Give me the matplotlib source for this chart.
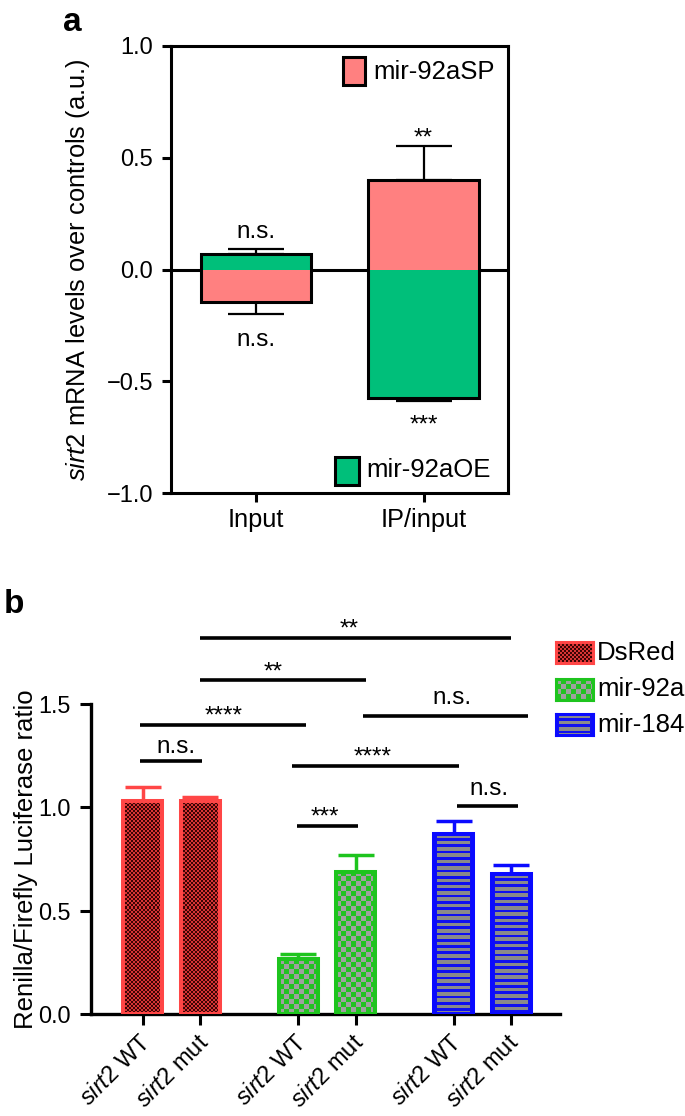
import numpy as np
import matplotlib
matplotlib.use('Agg')
import matplotlib.pyplot as plt
from matplotlib.colors import to_rgb
from matplotlib.patches import Rectangle
from matplotlib.transforms import ScaledTranslation

plt.rcParams['font.family'] = ['Liberation Sans', 'DejaVu Sans']
plt.rcParams['mathtext.fontset'] = 'custom'
plt.rcParams['mathtext.rm'] = 'Liberation Sans'
plt.rcParams['mathtext.it'] = 'Liberation Sans:italic'

# ---- panel a data ----
a_groups = ['Input', 'IP/input']
a_sp = [-0.145, 0.40]          # mir-92aSP
a_sp_err = [0.055, 0.152]
a_oe = [0.07, -0.575]          # mir-92aOE
a_oe_err = [0.022, 0.015]
a_sig_upper = ['n.s.', '**']
a_sig_upper_y = [0.171, 0.618]
a_sig_lower = ['n.s.', '***']
a_sig_lower_y = [-0.312, -0.666]

# ---- panel b data ----
b_labels = ['$\\mathit{sirt2}$ WT', '$\\mathit{sirt2}$ mut'] * 3
b_pos = [0, 1, 2.7, 3.7, 5.4, 6.4]
b_vals = [1.031, 1.031, 0.265, 0.687, 0.868, 0.674]
b_err = [0.067, 0.017, 0.027, 0.079, 0.063, 0.048]
b_group = ['DsRed', 'DsRed', 'mir-92a', 'mir-92a', 'mir-184', 'mir-184']
b_series = ['DsRed', 'mir-92a', 'mir-184']

b_sig_text = ['**', '**', '****', 'n.s.', 'n.s.', '****', '***', 'n.s.']
b_sig_x0 = [1.0, 1.0, -0.05, 3.83, -0.05, 2.59, 2.68, 5.46]
b_sig_x1 = [6.4, 3.88, 2.83, 6.7, 1.02, 5.5, 3.74, 6.52]
b_sig_y = [1.818, 1.613, 1.395, 1.44, 1.223, 1.20, 0.907, 1.003]
b_sig_tx = [3.58, 2.26, 1.41, 5.37, 0.57, 4.0, 3.17, 6.02]
b_sig_ty = [1.892, 1.686, 1.473, 1.529, 1.294, 1.273, 0.986, 1.089]

pink = '#ff8080'
green = '#00bf7a'
edge_col = {'DsRed': '#ff4646', 'mir-92a': '#1ec41e', 'mir-184': '#0a0aff'}


def texture(kind, wpx, hpx):
    wpx, hpx = max(int(round(wpx)), 1), max(int(round(hpx)), 1)
    yy, xx = np.mgrid[0:hpx, 0:wpx]
    if kind == 'DsRed':
        m = ((xx // 2 + yy // 2) % 2) == 0
        c1, c2 = to_rgb('#3a0404'), to_rgb('#d83434')
    elif kind == 'mir-92a':
        m = ((xx // 5 + yy // 5) % 2) == 0
        c1, c2 = to_rgb('#a0a0a0'), to_rgb('#22c222')
    else:
        m = ((yy % 6.3) < 3.6) & (xx >= 3) & (xx < wpx - 3)
        c1, c2 = to_rgb('#8a8a8a'), to_rgb('#1010f0')
    return np.where(m[..., None], np.array(c1), np.array(c2))


fig = plt.figure(figsize=(6.85, 11.16), dpi=100)

# ================= panel a =================
axa = fig.add_axes([0.2496, 0.5582, 0.492, 0.4006])
xa = np.arange(len(a_groups))
wa = 0.66
axa.axhline(0, color='k', lw=2.2, zorder=1)
axa.bar(xa, a_sp, wa, color=pink, lw=0, zorder=2)
axa.bar(xa, a_oe, wa, color=green, lw=0, zorder=2)
lo = np.minimum(a_sp, a_oe)
hi = np.maximum(a_sp, a_oe)
axa.bar(xa, hi - lo, wa, bottom=lo, fill=False, edgecolor='k', lw=2.2, zorder=3)
for vals, errs in [(a_sp, a_sp_err), (a_oe, a_oe_err)]:
    for x, v, e in zip(xa, vals, errs):
        yerr = [[e], [0]] if v < 0 else [[0], [e]]
        axa.errorbar(x, v, yerr=yerr, fmt='none', ecolor='k', elinewidth=1.6,
                     capsize=20, capthick=1.6, zorder=1.5)
for x, s, y in zip(xa, a_sig_upper, a_sig_upper_y):
    off = 9.7 if '*' in s else 4.6
    axa.annotate(s, (x, y), xytext=(0, -off), textcoords='offset points',
                 ha='center', va='baseline', fontsize=17.5)
for x, s, y in zip(xa, a_sig_lower, a_sig_lower_y):
    off = 9.7 if '*' in s else 4.6
    axa.annotate(s, (x, y), xytext=(0, -off), textcoords='offset points',
                 ha='center', va='baseline', fontsize=17.5)

axa.set_xlim(-0.507, 1.504)
axa.set_ylim(-1, 1)
axa.set_yticks([-1, -0.5, 0, 0.5, 1])
axa.set_yticklabels(['\u22121.0', '\u22120.5', '0.0', '0.5', '1.0'])
axa.set_xticks(xa)
axa.set_xticklabels(a_groups)
for sp in axa.spines.values():
    sp.set_linewidth(2.2)
axa.tick_params(axis='both', length=6.5, width=2.2)
axa.tick_params(axis='y', labelsize=17, pad=6.5)
axa.tick_params(axis='x', labelsize=18.3, pad=4)
axa.set_ylabel('$\\mathit{sirt2}$ mRNA levels over controls (a.u.)', fontsize=18.4)
axa.yaxis.set_label_coords(-0.234, 0.5)

# legend a
axa.add_patch(Rectangle((0.510, 0.912), 0.066, 0.063, transform=axa.transAxes,
                        facecolor=pink, edgecolor='k', lw=2.2, clip_on=False))
axa.text(0.599, 0.942, 'mir-92aSP', transform=axa.transAxes, fontsize=18.5,
         va='center', ha='left')
axa.add_patch(Rectangle((0.487, 0.017), 0.071, 0.064, transform=axa.transAxes,
                        facecolor=green, edgecolor='k', lw=2.2, clip_on=False))
axa.text(0.579, 0.051, 'mir-92aOE', transform=axa.transAxes, fontsize=18.5,
         va='center', ha='left')

fig.text(63 / 685, 1 - 31 / 1116, 'a', fontsize=24, fontweight='bold', va='baseline')

# ================= panel b =================
axb = fig.add_axes([0.1328, 0.0914, 0.6847, 0.2782])
axb.set_xlim(-0.904, 7.25)
axb.set_ylim(0, 1.5)
wb = 0.678
px_x = axb.transData.transform((1, 0))[0] - axb.transData.transform((0, 0))[0]
px_y = axb.transData.transform((0, 1))[1] - axb.transData.transform((0, 0))[1]
for x, v, e, g in zip(b_pos, b_vals, b_err, b_group):
    img = texture(g, wb * px_x, v * px_y)
    axb.imshow(img, extent=[x - wb / 2, x + wb / 2, 0, v], aspect='auto',
               interpolation='nearest', zorder=2)
    axb.bar(x, v, wb, fill=False, edgecolor=edge_col[g], lw=2.9, zorder=3)
    axb.errorbar(x, v, yerr=[[0], [e]], fmt='none', ecolor=edge_col[g],
                 elinewidth=2.5, capsize=13, capthick=2.5, zorder=1.5)
axb.set_xlim(-0.904, 7.25)
axb.set_ylim(0, 1.5)

for s, x0, x1, y, tx, ty in zip(b_sig_text, b_sig_x0, b_sig_x1, b_sig_y, b_sig_tx, b_sig_ty):
    axb.plot([x0, x1], [y, y], color='k', lw=2.6, clip_on=False,
             solid_capstyle='butt')
    off = 9.7 if '*' in s else 4.6
    axb.annotate(s, (tx, ty), xytext=(0, -off), textcoords='offset points',
                 ha='center', va='baseline', fontsize=17.5, annotation_clip=False)

axb.spines['top'].set_visible(False)
axb.spines['right'].set_visible(False)
axb.spines['left'].set_linewidth(2.4)
axb.spines['bottom'].set_linewidth(2.4)
axb.set_yticks([0, 0.5, 1.0, 1.5])
axb.set_yticklabels(['0.0', '0.5', '1.0', '1.5'])
axb.set_xticks(b_pos)
axb.set_xticklabels(b_labels, rotation=45, ha='right', va='center',
                    rotation_mode='anchor', fontsize=17)
axb.tick_params(axis='both', length=8, width=2.2)
axb.tick_params(axis='y', labelsize=16.8, pad=6.5)
axb.tick_params(axis='x', pad=10)
shift = ScaledTranslation(0.05, 0, fig.dpi_scale_trans)
for lab in axb.get_xticklabels():
    lab.set_transform(lab.get_transform() + shift)
axb.set_ylabel('Renilla/Firefly Luciferase ratio', fontsize=18.5)
axb.yaxis.set_label_coords(-0.113, 0.5)

# legend b
leg_y = [0.4055, 0.3728, 0.3414]
for s, y in zip(b_series, leg_y):
    lax = fig.add_axes([0.8117, y, 0.054, 0.0188])
    lax.imshow(texture(s, 37, 21), aspect='auto', interpolation='nearest')
    lax.set_xticks([])
    lax.set_yticks([])
    for sp in lax.spines.values():
        sp.set_edgecolor(edge_col[s])
        sp.set_linewidth(2.2)
    fig.text(0.8715, y + 0.0094, s, fontsize=18.5, va='center', ha='left')

fig.text(4 / 685, 1 - 613 / 1116, 'b', fontsize=24, fontweight='bold', va='baseline')

fig.savefig('out.png', dpi=100)
